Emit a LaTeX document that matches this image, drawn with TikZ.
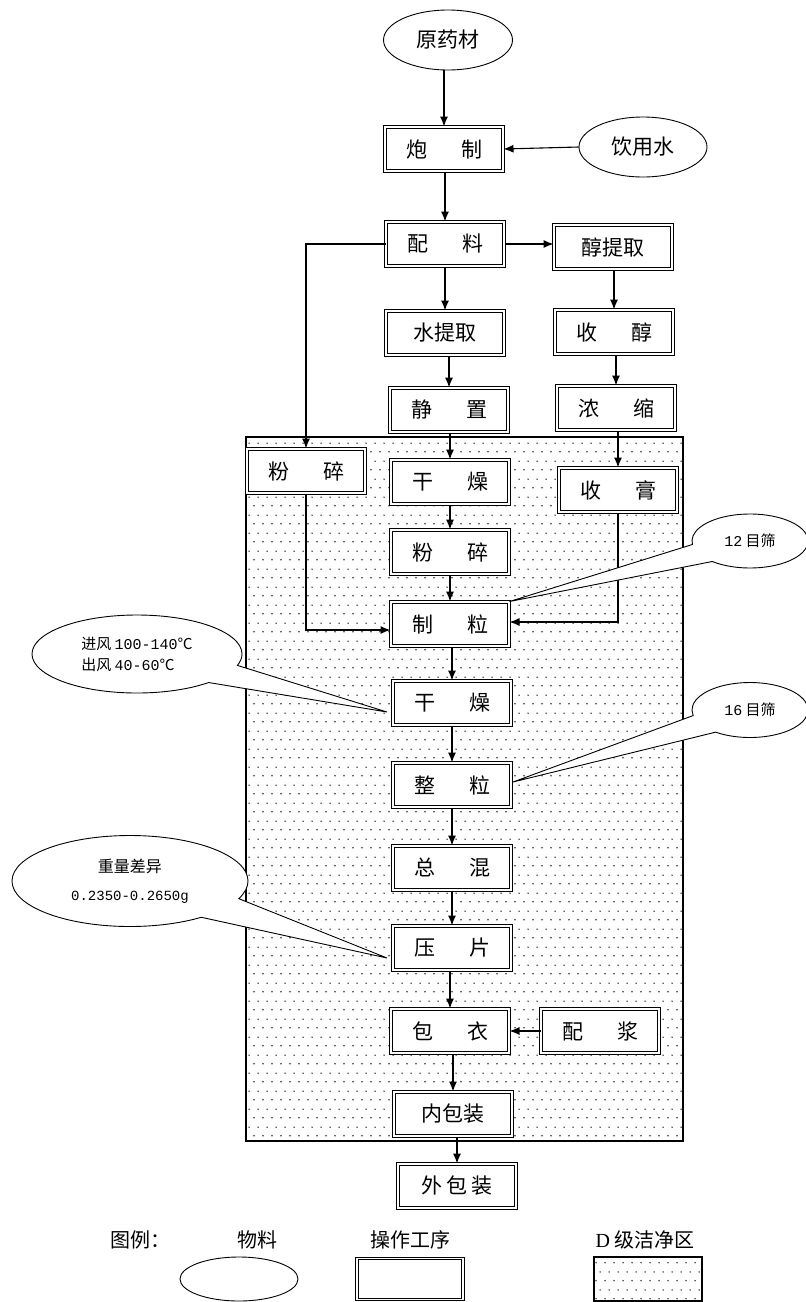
\documentclass[tikz,border=0pt]{standalone}
\usepackage{fontspec}
\setmainfont{Noto Sans CJK SC}
\newfontfamily\mono{Liberation Mono}
\newfontfamily\ser{Liberation Serif}
\usetikzlibrary{shapes.geometric,shapes.callouts,patterns,arrows.meta}
\pgfdeclarepatternformonly{cleandots}{\pgfqpoint{0pt}{0pt}}{\pgfqpoint{9pt}{18pt}}{\pgfqpoint{9pt}{18pt}}{%
 \pgfpathcircle{\pgfqpoint{2.25pt}{4.5pt}}{0.9pt}%
 \pgfpathcircle{\pgfqpoint{6.75pt}{13.5pt}}{0.9pt}%
 \pgfusepath{fill}}
\newcommand{\tw}[2]{#1\hspace{34pt}#2}
\tikzset{
 proc/.style={draw, double, double distance=1.6pt, line width=1pt, fill=white, minimum width=118pt, minimum height=44pt, inner sep=0pt, font=\fontsize{21}{25}\selectfont},
 mat/.style={draw, ellipse, line width=0.9pt, fill=white, minimum width=129pt, minimum height=60pt, inner sep=0pt, font=\fontsize{21}{25}\selectfont},
 flow/.style={line width=1.1pt, -{Latex[length=10pt,width=8pt]}},
 call/.style={draw, ellipse callout, line width=0.9pt, fill=white, inner sep=0pt, callout pointer arc=30},
 zone/.style={draw, line width=1.1pt, pattern=cleandots, pattern color=black!80},
 lgtext/.style={font=\fontsize{20}{24}\selectfont},
}
\begin{document}
\begin{tikzpicture}[x=1pt,y=-1pt]
\useasboundingbox[fill=white] (0,0) rectangle (806,1302);
% clean zone
\path[zone] (246,437) rectangle (683,1141);
% materials
\node[mat] (yao) at (448,40) {原药材};
\node[mat, minimum width=128pt] (water) at (643,147) {饮用水};
% process steps
\node[proc] (paozhi) at (444,149) {\tw{炮}{制}};
\node[proc] (peiliao) at (445,244) {\tw{配}{料}};
\node[proc] (chun) at (613,247) {醇提取};
\node[proc] (shui) at (445,333) {水提取};
\node[proc] (shouchun) at (614,332) {\tw{收}{醇}};
\node[proc] (jing) at (449,410) {\tw{静}{置}};
\node[proc] (nong) at (616,408) {\tw{浓}{缩}};
\node[proc] (fen1) at (306,471) {\tw{粉}{碎}};
\node[proc] (gan1) at (450,482) {\tw{干}{燥}};
\node[proc] (gao) at (618,490) {\tw{收}{膏}};
\node[proc] (fen2) at (450,552) {\tw{粉}{碎}};
\node[proc] (zhili) at (450,624) {\tw{制}{粒}};
\node[proc] (gan2) at (452,703) {\tw{干}{燥}};
\node[proc] (zheng) at (452,785) {\tw{整}{粒}};
\node[proc] (zong) at (452,868) {\tw{总}{混}};
\node[proc] (ya) at (452,948) {\tw{压}{片}};
\node[proc] (bao) at (450,1031) {\tw{包}{衣}};
\node[proc] (jiang) at (600,1031) {\tw{配}{浆}};
\node[proc] (nei) at (453,1114) {内包装};
\node[proc] (wai) at (457,1186) {外\hspace{4pt}包\hspace{4pt}装};
% connectors
\draw[flow] (paozhi.north |- yao.south) -- (paozhi.north);
\draw[flow] (water.west) -- (paozhi.east);
\draw[flow] (peiliao.north |- paozhi.south) -- (peiliao.north);
\draw[flow] (peiliao.east) -- (peiliao.east -| chun.west);
\draw[flow] (peiliao.west) -| (fen1.north);
\draw[flow] (shui.north |- peiliao.south) -- (shui.north);
\draw[flow] (shouchun.north |- chun.south) -- (shouchun.north);
\draw[flow] (nong.north |- shouchun.south) -- (nong.north);
\draw[flow] (gao.north |- nong.south) -- (gao.north);
\draw[flow] (jing.north |- shui.south) -- (jing.north);
\draw[flow] (gan1.north |- jing.south) -- (gan1.north);
\draw[flow] (fen2.north |- gan1.south) -- (fen2.north);
\draw[flow] (zhili.north |- fen2.south) -- (zhili.north);
\draw[flow] (fen1.south) |- ([yshift=-6pt]zhili.west);
\draw[flow] (gao.south) |- ([yshift=2pt]zhili.east);
\draw[flow] (gan2.north |- zhili.south) -- (gan2.north);
\draw[flow] (zheng.north |- gan2.south) -- (zheng.north);
\draw[flow] (zong.north |- zheng.south) -- (zong.north);
\draw[flow] (ya.north |- zong.south) -- (ya.north);
\draw[flow] (bao.north |- ya.south) -- (bao.north);
\draw[flow] (jiang.west) -- (bao.east);
\draw[flow] (nei.north |- bao.south) -- (nei.north);
\draw[flow] (wai.north |- nei.south) -- (wai.north);
% callouts
\coordinate (tipA) at (387,712);
\coordinate (tipB) at (513,782);
\coordinate (tipC) at (387,958);
\node[call, callout pointer arc=42, minimum width=116pt, minimum height=54pt, callout absolute pointer={(zhili.north east)}, font=\fontsize{15}{20}\selectfont] (c12) at (750,541) {{\mono 12} 目筛};
\node[call, callout pointer arc=42, minimum width=116pt, minimum height=55pt, callout absolute pointer={(tipB)}, font=\fontsize{15}{20}\selectfont] (c16) at (750,710) {{\mono 16} 目筛};
\node[call, minimum width=210pt, minimum height=78pt, callout absolute pointer={(tipA)}, align=left, font=\fontsize{15}{21}\selectfont] (cair) at (137,654) {进风 {\mono 100-140}℃\\出风 {\mono 40-60}℃\hspace{20pt}};
\node[call, minimum width=236pt, minimum height=91pt, callout absolute pointer={(tipC)}, align=center, font=\fontsize{16}{28}\selectfont] (cwt) at (130,881) {重量差异\\{\mono\fontsize{14}{28}\selectfont 0.2350-0.2650g}};
% legend
\node[lgtext] (lg) at (140,1240) {图例：};
\node[lgtext] (lm) at (257,1240) {物料};
\node[lgtext] (lp) at (410,1240) {操作工序};
\node[lgtext] (lz) at (645,1240) {{\ser D} 级洁净区};
\node[mat, minimum width=118pt, minimum height=44pt] (le) at (239,1279) {};
\node[proc, minimum width=106pt, minimum height=41pt] (lb) at (410,1279) {};
\node[zone, minimum width=108pt, minimum height=44pt] (lzn) at (648,1279) {};
\end{tikzpicture}
\end{document}
